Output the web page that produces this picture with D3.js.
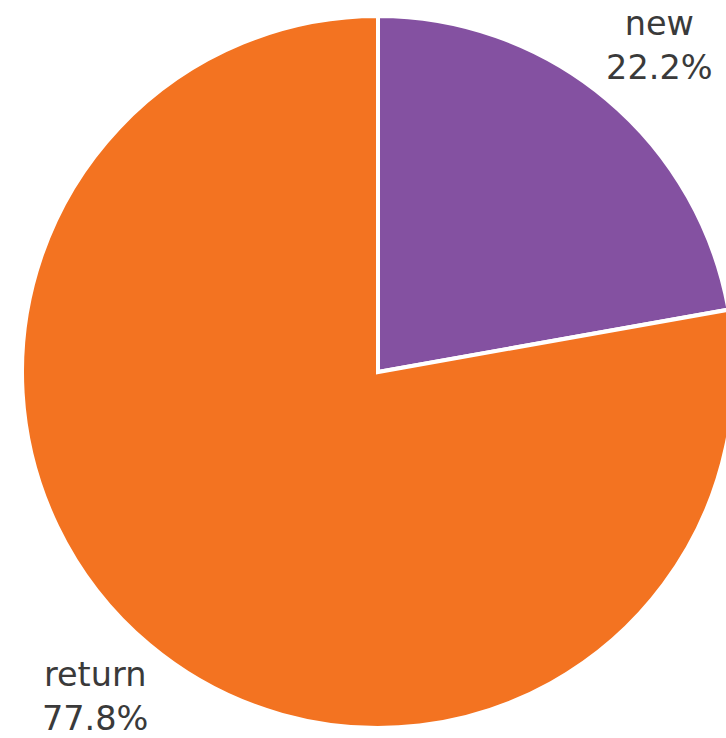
<!DOCTYPE html>
<html>
<head>
<meta charset="utf-8">
<script src="https://cdn.jsdelivr.net/npm/d3@7"></script>
<style>
  body { margin: 0; background: #fff; }
  svg text { font-family: "DejaVu Sans", Verdana, sans-serif; fill: #3a3a3a; }
</style>
</head>
<body>
<script>
// establish variables
var w  = 726;
var h  = 738;
var cx = 378;
var cy = 372;
var r  = 356;
var lr = 431;   // label radius

var labels = ["new", "return"];
var values = [22.2, 77.8];
var colors = ["#8451a1", "#f37321"];

var svg = d3.select("body").append("svg")
    .attr("width", w)
    .attr("height", h);

var g = svg.append("g")
    .attr("transform", "translate(" + cx + "," + cy + ")");

var pie = d3.pie().sort(null).value(function(d) { return d; });
var arcs = pie(values);

var arc = d3.arc().innerRadius(0).outerRadius(r);

// slices
g.selectAll("path.slice").data(arcs).enter().append("path")
  .attr("class", "slice")
  .attr("d", arc)
  .attr("fill", function(d, i) { return colors[i]; })
  .attr("stroke", "#fff")
  .attr("stroke-width", 4)
  .attr("stroke-linejoin", "miter");

// labels: name + percent, placed outside at mid angle
function labelPos(d) {
  var a = (d.startAngle + d.endAngle) / 2 + 0.016;
  return [Math.sin(a) * lr - 0.75, -Math.cos(a) * lr - 1.5];
}

var lab = g.selectAll("g.label").data(arcs).enter().append("g")
  .attr("class", "label")
  .attr("transform", function(d) { return "translate(" + labelPos(d) + ")"; });

lab.append("text")
  .attr("text-anchor", "middle")
  .attr("y", -10)
  .style("font-size", "33.5px")
  .text(function(d, i) { return labels[i]; });

lab.append("text")
  .attr("text-anchor", "middle")
  .attr("y", 34)
  .style("font-size", "33.5px")
  .text(function(d) { return d.value.toFixed(1) + "%"; });
</script>
</body>
</html>
